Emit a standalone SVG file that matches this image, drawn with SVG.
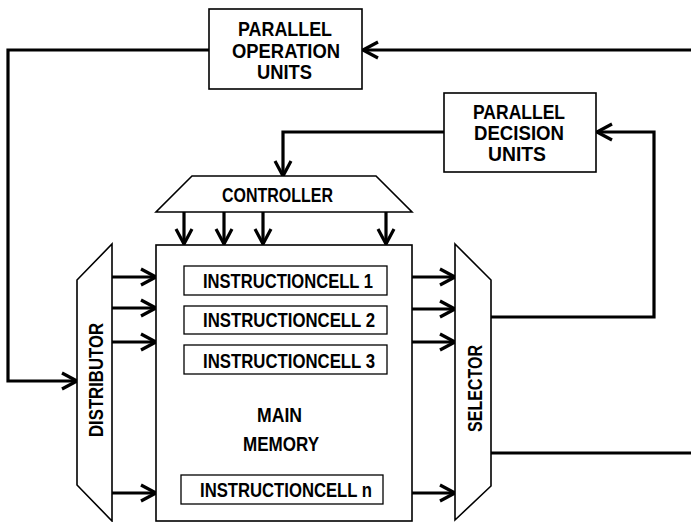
<svg xmlns="http://www.w3.org/2000/svg" width="691" height="522" viewBox="0 0 691 522">
<style>
.box{fill:#fff;stroke:#000;stroke-width:1.6}
.cell{fill:#fff;stroke:#000;stroke-width:1.3}
.t{font-family:"Liberation Sans",Arial,sans-serif;font-weight:bold;font-size:20px;fill:#000;text-anchor:middle}
.ct{font-size:21px}
.c{fill:none;stroke:#000;stroke-width:3.2}
</style>
<defs>
<marker id="ah" markerUnits="userSpaceOnUse" markerWidth="20" markerHeight="20" viewBox="-17 -10 20 20" refX="0" refY="0" orient="auto">
<path d="M-15,-8 L0,0 L-15,8" fill="none" stroke="#000" stroke-width="3.2"/>
</marker>
</defs>
<rect width="691" height="522" fill="#fff"/>
<g id="connectors">
<polyline class="c" points="209,50 8,50 8,381 77,381" marker-end="url(#ah)"/>
<polyline class="c" points="691,50 363,50" marker-end="url(#ah)"/>
<polyline class="c" points="491,317 654,317 654,132 597,132" marker-end="url(#ah)"/>
<polyline class="c" points="444,132 283,132 283,176" marker-end="url(#ah)"/>
<line class="c" x1="491" y1="453" x2="691" y2="453"/>
<line class="c" x1="184" y1="212" x2="184" y2="244" marker-end="url(#ah)"/>
<line class="c" x1="224" y1="212" x2="224" y2="244" marker-end="url(#ah)"/>
<line class="c" x1="263" y1="212" x2="263" y2="244" marker-end="url(#ah)"/>
<line class="c" x1="386" y1="212" x2="386" y2="244" marker-end="url(#ah)"/>
<line class="c" x1="112" y1="277" x2="156" y2="277" marker-end="url(#ah)"/>
<line class="c" x1="112" y1="308" x2="156" y2="308" marker-end="url(#ah)"/>
<line class="c" x1="112" y1="342" x2="156" y2="342" marker-end="url(#ah)"/>
<line class="c" x1="112" y1="493" x2="156" y2="493" marker-end="url(#ah)"/>
<line class="c" x1="412" y1="277" x2="455" y2="277" marker-end="url(#ah)"/>
<line class="c" x1="412" y1="309" x2="455" y2="309" marker-end="url(#ah)"/>
<line class="c" x1="412" y1="342" x2="455" y2="342" marker-end="url(#ah)"/>
<line class="c" x1="412" y1="493" x2="455" y2="493" marker-end="url(#ah)"/>
</g>
<g id="pou">
<rect class="box" x="209" y="9" width="153" height="80"/>
<text class="t" x="285" y="36" textLength="94" lengthAdjust="spacingAndGlyphs">PARALLEL</text>
<text class="t" x="286" y="58" textLength="108" lengthAdjust="spacingAndGlyphs">OPERATION</text>
<text class="t" x="284.5" y="79" textLength="55" lengthAdjust="spacingAndGlyphs">UNITS</text>
</g>
<g id="pdu">
<rect class="box" x="444" y="93" width="152" height="79"/>
<text class="t" x="519" y="119" textLength="92" lengthAdjust="spacingAndGlyphs">PARALLEL</text>
<text class="t" x="519" y="140" textLength="90" lengthAdjust="spacingAndGlyphs">DECISION</text>
<text class="t" x="517" y="161" textLength="58" lengthAdjust="spacingAndGlyphs">UNITS</text>
</g>
<g id="controller">
<polygon class="box" points="192,176 376,176 412,212 156,212"/>
<text class="t" x="277.5" y="202" textLength="111" lengthAdjust="spacingAndGlyphs">CONTROLLER</text>
</g>
<g id="main-memory">
<rect class="box" x="156" y="245" width="256" height="276"/>
<text class="t" x="279.5" y="422" textLength="45" lengthAdjust="spacingAndGlyphs">MAIN</text>
<text class="t" x="281" y="451" textLength="76" lengthAdjust="spacingAndGlyphs">MEMORY</text>
</g>
<g id="cell1">
<rect class="cell" x="184" y="266" width="203" height="29"/>
<text class="t ct" x="288" y="288" textLength="170" lengthAdjust="spacingAndGlyphs">INSTRUCTIONCELL 1</text>
</g>
<g id="cell2">
<rect class="cell" x="184" y="306" width="203" height="28"/>
<text class="t ct" x="289" y="327" textLength="172" lengthAdjust="spacingAndGlyphs">INSTRUCTIONCELL 2</text>
</g>
<g id="cell3">
<rect class="cell" x="184" y="345" width="203" height="29"/>
<text class="t ct" x="289" y="368" textLength="172" lengthAdjust="spacingAndGlyphs">INSTRUCTIONCELL 3</text>
</g>
<g id="celln">
<rect class="cell" x="181" y="475" width="202" height="29"/>
<text class="t ct" x="286" y="497" textLength="172" lengthAdjust="spacingAndGlyphs">INSTRUCTIONCELL n</text>
</g>
<g id="distributor">
<polygon class="box" points="77,280 112,244 112,521 77,485"/>
<text class="t" transform="translate(103,380) rotate(-90)" x="0" y="0" textLength="114" lengthAdjust="spacingAndGlyphs">DISTRIBUTOR</text>
</g>
<g id="selector">
<polygon class="box" points="455,244 491,280 491,486 455,520"/>
<text class="t" transform="translate(482,388.5) rotate(-90)" x="0" y="0" textLength="87" lengthAdjust="spacingAndGlyphs">SELECTOR</text>
</g>
</svg>
